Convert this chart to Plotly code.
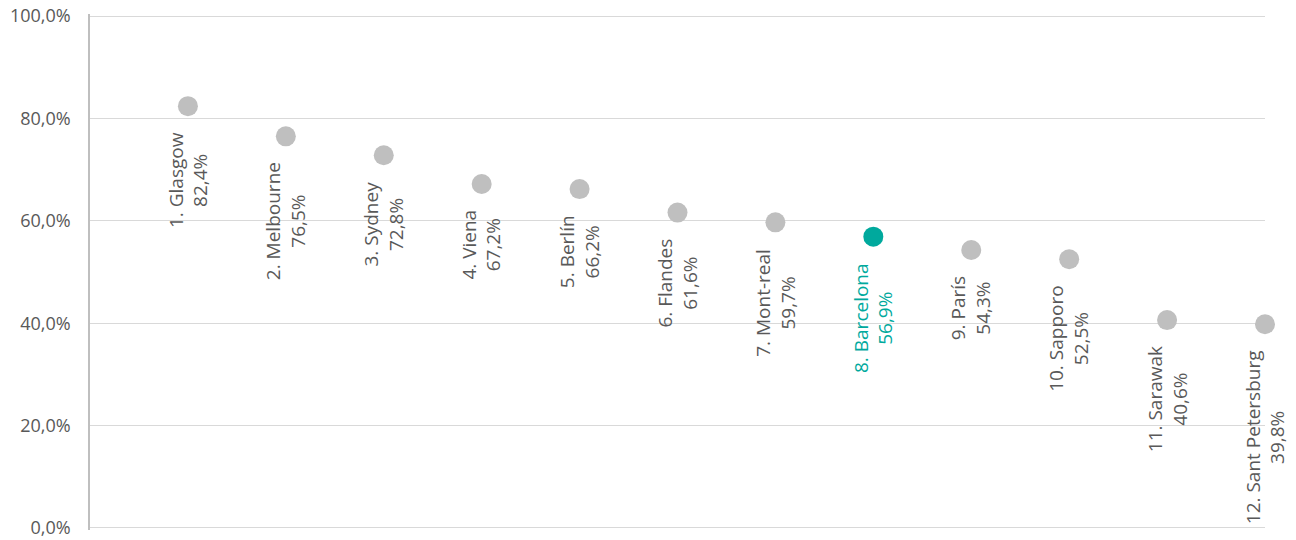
import plotly.graph_objects as go

cities = ["Glasgow", "Melbourne", "Sydney", "Viena", "Berlín", "Flandes",
          "Mont-real", "Barcelona", "París", "Sapporo", "Sarawak", "Sant Petersburg"]
values = [0.824, 0.765, 0.728, 0.672, 0.662, 0.616, 0.597, 0.569, 0.543, 0.525, 0.406, 0.398]
ranks = list(range(1, 13))
highlight = "Barcelona"

GREY = "#BFBFBF"
TEAL = "#00A99D"
TEXT = "#595959"

colors = [TEAL if c == highlight else GREY for c in cities]

fig = go.Figure()
fig.add_trace(go.Scatter(
    x=ranks, y=values, mode="markers",
    marker=dict(size=20, color=colors, line=dict(width=0)),
    cliponaxis=False, showlegend=False, hoverinfo="skip",
))

for r, c, v, col in zip(ranks, cities, values, colors):
    pct = f"{v*100:.1f}".replace(".", ",") + "%"
    fig.add_annotation(
        x=r, y=v, xref="x", yref="y",
        text=f"{r}. {c}<br>{pct}",
        textangle=-90, showarrow=False,
        xanchor="center", yanchor="top", yshift=-24,
        align="center",
        font=dict(family="Open Sans", size=19, color=TEAL if c == highlight else TEXT),
    )

fig.update_layout(
    template="none",
    width=1296, height=540,
    margin=dict(l=90, r=31, t=14, b=10, autoexpand=False),
    plot_bgcolor="white", paper_bgcolor="white",
    separators=",.",
    font=dict(family="Open Sans", size=19, color=TEXT),
    xaxis=dict(range=[0, 12], visible=False, showgrid=False, zeroline=False, automargin=False),
    yaxis=dict(range=[-0.004, 1.004], tickvals=[0, 0.2, 0.4, 0.6, 0.8, 1.0], tickformat=".1%",
               showgrid=True, gridcolor="#D9D9D9", gridwidth=1, zeroline=False,
               showline=True, linecolor="#BFBFBF", linewidth=1.5, automargin=False,
               ticks="", ticklabelstandoff=14, ticklabeloverflow="allow",
               tickfont=dict(family="Open Sans", size=18, color=TEXT)),
)

fig.write_html("out.html", config={"displayModeBar": False},
               post_script="document.body.style.margin='0';")
